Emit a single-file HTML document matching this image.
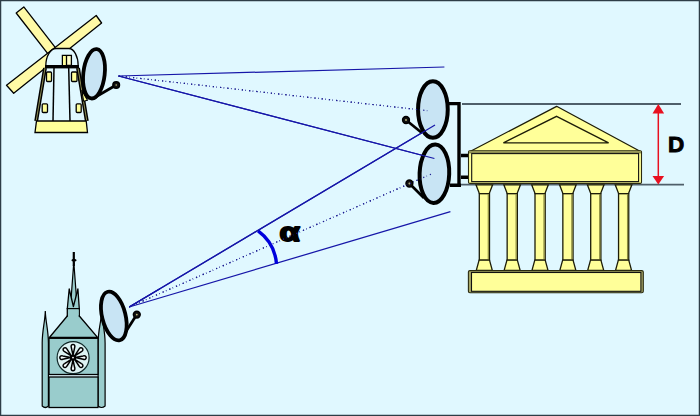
<!DOCTYPE html>
<html><head><meta charset="utf-8"><style>
html,body{margin:0;padding:0;background:#E0F8FF;}
svg{display:block;}
text{font-family:"Liberation Sans",sans-serif;}
</style></head><body>
<svg width="700" height="416" viewBox="0 0 700 416"><rect x="0" y="0" width="700" height="416" fill="#E0F8FF"/>
<line x1="118.5" y1="76" x2="444.4" y2="67" stroke="#1616A8" stroke-width="1.25"/>
<line x1="118.5" y1="76" x2="434.4" y2="158.5" stroke="#1616A8" stroke-width="1.25"/>
<line x1="118.5" y1="76" x2="430.5" y2="111" stroke="#1a1a90" stroke-width="1.2" stroke-dasharray="1.2 2.45 0.5 3.15"/>
<line x1="129.2" y1="307" x2="435" y2="125" stroke="#1616A8" stroke-width="1.25"/>
<line x1="129.2" y1="307" x2="450.4" y2="211.6" stroke="#1616A8" stroke-width="1.25"/>
<line x1="129.2" y1="307" x2="432.5" y2="173.5" stroke="#1a1a90" stroke-width="1.2" stroke-dasharray="1.2 2.45 0.5 3.15"/>
<path d="M258.1,230.9 A45.5,45.5 0 0 1 276.5,263.9" fill="none" stroke="#0000DD" stroke-width="3.4"/>
<text x="0" y="0" font-family="Liberation Sans" font-weight="bold" font-size="25" fill="#000" stroke="#000" stroke-width="1.8" stroke-linejoin="round" transform="translate(279.6 240.9) scale(1.32 1.02)">&#945;</text>
<polygon points="16.2,13 23.8,6.9 60.6,54.4 53,60.4" fill="#FFFAA6" stroke="#000" stroke-width="1.3" stroke-linejoin="round"/>
<polygon points="96.2,15.5 101.6,23 13.7,93.3 6.5,85.3" fill="#FFFAA6" stroke="#000" stroke-width="1.3" stroke-linejoin="round"/>
<polygon points="45,68 78,68 87,121 36,121" fill="#E0F8FF"/>
<line x1="45" y1="68" x2="36.2" y2="121" stroke="#000" stroke-width="3.9"/>
<line x1="45" y1="68" x2="36.2" y2="121" stroke="#C8C878" stroke-width="0.7"/>
<line x1="78" y1="68" x2="86.8" y2="121" stroke="#000" stroke-width="3.9"/>
<line x1="78" y1="68" x2="86.8" y2="121" stroke="#C8C878" stroke-width="0.7"/>
<line x1="54" y1="68" x2="53" y2="121" stroke="#000" stroke-width="1.5"/>
<line x1="68.7" y1="68" x2="70" y2="121" stroke="#000" stroke-width="1.5"/>
<rect x="46.5" y="72" width="5" height="9.5" rx="1" fill="#FFFF99" stroke="#000" stroke-width="1.3"/>
<rect x="71.5" y="72" width="5.5" height="9.5" rx="1" fill="#FFFF99" stroke="#000" stroke-width="1.3"/>
<rect x="42.2" y="103.8" width="5.3" height="8.7" rx="1" fill="#FFFF99" stroke="#000" stroke-width="1.3"/>
<rect x="76.2" y="103.8" width="5" height="8.7" rx="1" fill="#FFFF99" stroke="#000" stroke-width="1.3"/>
<polygon points="36.5,121 86.2,121 87.5,132.5 35,132.5" fill="#FFFF99" stroke="#000" stroke-width="1.3"/>
<path d="M45.8,66 A10.2,17.5 0 0 1 56,48.5 L68.8,48.5 A9.4,17.5 0 0 1 78.2,66 Z" fill="#E0F8FF" stroke="#000" stroke-width="1.3"/>
<rect x="62.4" y="55.4" width="9" height="10" fill="#FFFFCC" stroke="#000" stroke-width="1.3"/>
<rect x="63" y="56" width="3.3" height="9" fill="#FFFF99"/>
<line x1="66.5" y1="55.4" x2="66.5" y2="65.5" stroke="#000" stroke-width="1.3"/>
<rect x="45" y="65" width="34" height="3.4" fill="#000"/>
<polygon points="81.8,90.5 87.5,100.3 83.6,101.2" fill="#FFFF99" stroke="#000" stroke-width="1.1" stroke-linejoin="round"/>
<line x1="93" y1="98.5" x2="116.2" y2="85" stroke="#000" stroke-width="2.7"/>
<ellipse cx="94" cy="73.8" rx="10.7" ry="24.8" transform="rotate(6.4 94 73.8)" fill="#C8E4F4" stroke="#000" stroke-width="3.8"/>
<circle cx="116.2" cy="85" r="3.3" fill="#111" stroke="#000" stroke-width="1.5"/><circle cx="116.2" cy="85" r="0.8" fill="#C8C080"/>
<path d="M449,103.6 L459,103.6 M459,102 L459,187 M450,185.2 L461,185.2" stroke="#000" stroke-width="3.4" fill="none"/>
<path d="M461,155.5 L469,155.5 M461,177.3 L469,177.3" stroke="#000" stroke-width="3.5" fill="none"/>
<line x1="422" y1="133" x2="406" y2="120" stroke="#000" stroke-width="2.7"/>
<ellipse cx="432.9" cy="109.5" rx="14.85" ry="28.3" fill="#C8E4F4" stroke="#000" stroke-width="4"/>
<circle cx="406" cy="120" r="3.4" fill="#111" stroke="#000" stroke-width="1.5"/><circle cx="406" cy="120" r="0.9" fill="#C8C080"/>
<line x1="424" y1="198" x2="409.4" y2="183.5" stroke="#000" stroke-width="2.7"/>
<ellipse cx="434.4" cy="173.7" rx="14.8" ry="29.2" transform="rotate(2 434.4 173.7)" fill="#C8E4F4" stroke="#000" stroke-width="4"/>
<circle cx="409.4" cy="183.5" r="3.4" fill="#111" stroke="#000" stroke-width="1.5"/><circle cx="409.4" cy="183.5" r="0.9" fill="#C8C080"/>
<line x1="118.5" y1="76" x2="434.4" y2="158.5" stroke="#1616A8" stroke-width="1.25"/>
<line x1="129.2" y1="307" x2="435" y2="125" stroke="#1616A8" stroke-width="1.25"/>
<line x1="118.5" y1="76" x2="430.5" y2="111" stroke="#1a1a90" stroke-width="1.2" stroke-dasharray="1.2 2.45 0.5 3.15"/>
<line x1="129.2" y1="307" x2="432.5" y2="173.5" stroke="#1a1a90" stroke-width="1.2" stroke-dasharray="1.2 2.45 0.5 3.15"/>
<line x1="462" y1="104" x2="681" y2="104" stroke="#4F5F6A" stroke-width="1.8"/>
<line x1="461" y1="184.6" x2="684" y2="184.6" stroke="#4F5F6A" stroke-width="1.8"/>
<polygon points="556.6,106.3 641.4,152 469.1,152" fill="#FFFF99" stroke="#1c1c08" stroke-width="1.3" stroke-linejoin="round"/>
<polygon points="556.6,116.3 608.6,142.9 503.4,142.9" fill="none" stroke="#1c1c08" stroke-width="1.3"/>
<rect x="468.5" y="150.8" width="173" height="32.6" rx="1.2" fill="#FFFF99" stroke="#2a2a10" stroke-width="1.1"/>
<rect x="469" y="151.2" width="172" height="2.2" fill="#8C8C50"/>
<rect x="471.7" y="153.6" width="166.9" height="28" fill="#FFFF99" stroke="#111" stroke-width="1.1"/>
<polygon points="476.0,184.8 492.6,184.8 489.2,193.7 479.40000000000003,193.7" fill="#FFFF99" stroke="#1c1c08" stroke-width="1.3"/>
<rect x="479.3" y="193.7" width="10.2" height="66.5" fill="#FFFF99" stroke="#1c1c08" stroke-width="1.3"/>
<line x1="488.3" y1="194" x2="488.3" y2="260" stroke="#8a8a40" stroke-width="1.2"/>
<polygon points="479.1,260.2 489.5,260.2 492.3,270.3 476.3,270.3" fill="#FFFF99" stroke="#1c1c08" stroke-width="1.3"/>
<polygon points="503.84999999999997,184.8 520.4499999999999,184.8 517.05,193.7 507.25,193.7" fill="#FFFF99" stroke="#1c1c08" stroke-width="1.3"/>
<rect x="507.15" y="193.7" width="10.2" height="66.5" fill="#FFFF99" stroke="#1c1c08" stroke-width="1.3"/>
<line x1="516.15" y1="194" x2="516.15" y2="260" stroke="#8a8a40" stroke-width="1.2"/>
<polygon points="506.95,260.2 517.35,260.2 520.15,270.3 504.15,270.3" fill="#FFFF99" stroke="#1c1c08" stroke-width="1.3"/>
<polygon points="531.7,184.8 548.3,184.8 544.9,193.7 535.1,193.7" fill="#FFFF99" stroke="#1c1c08" stroke-width="1.3"/>
<rect x="535.0" y="193.7" width="10.2" height="66.5" fill="#FFFF99" stroke="#1c1c08" stroke-width="1.3"/>
<line x1="544.0" y1="194" x2="544.0" y2="260" stroke="#8a8a40" stroke-width="1.2"/>
<polygon points="534.8,260.2 545.2,260.2 548.0,270.3 532.0,270.3" fill="#FFFF99" stroke="#1c1c08" stroke-width="1.3"/>
<polygon points="559.5500000000001,184.8 576.15,184.8 572.75,193.7 562.95,193.7" fill="#FFFF99" stroke="#1c1c08" stroke-width="1.3"/>
<rect x="562.85" y="193.7" width="10.2" height="66.5" fill="#FFFF99" stroke="#1c1c08" stroke-width="1.3"/>
<line x1="571.85" y1="194" x2="571.85" y2="260" stroke="#8a8a40" stroke-width="1.2"/>
<polygon points="562.65,260.2 573.0500000000001,260.2 575.85,270.3 559.85,270.3" fill="#FFFF99" stroke="#1c1c08" stroke-width="1.3"/>
<polygon points="587.4000000000001,184.8 604.0,184.8 600.6,193.7 590.8000000000001,193.7" fill="#FFFF99" stroke="#1c1c08" stroke-width="1.3"/>
<rect x="590.7" y="193.7" width="10.2" height="66.5" fill="#FFFF99" stroke="#1c1c08" stroke-width="1.3"/>
<line x1="599.7" y1="194" x2="599.7" y2="260" stroke="#8a8a40" stroke-width="1.2"/>
<polygon points="590.5,260.2 600.9000000000001,260.2 603.7,270.3 587.7,270.3" fill="#FFFF99" stroke="#1c1c08" stroke-width="1.3"/>
<polygon points="615.25,184.8 631.8499999999999,184.8 628.4499999999999,193.7 618.65,193.7" fill="#FFFF99" stroke="#1c1c08" stroke-width="1.3"/>
<rect x="618.55" y="193.7" width="10.2" height="66.5" fill="#FFFF99" stroke="#1c1c08" stroke-width="1.3"/>
<line x1="627.55" y1="194" x2="627.55" y2="260" stroke="#8a8a40" stroke-width="1.2"/>
<polygon points="618.3499999999999,260.2 628.75,260.2 631.55,270.3 615.55,270.3" fill="#FFFF99" stroke="#1c1c08" stroke-width="1.3"/>
<rect x="468.4" y="270.6" width="174.9" height="22.1" rx="1.5" fill="#A8A868" stroke="#2a2a10" stroke-width="1.1"/>
<rect x="471.5" y="272.5" width="169.4" height="18.8" fill="#FFFF99" stroke="#111" stroke-width="1.1"/>
<line x1="658.3" y1="110" x2="658.3" y2="178" stroke="#E81020" stroke-width="1.5"/>
<polygon points="658.3,104 652.5,113.5 664.1,113.5" fill="#E81020"/>
<polygon points="658.3,184.6 652.5,176 664.1,176" fill="#E81020"/>
<text x="668" y="151.5" font-family="Liberation Sans" font-weight="bold" font-size="22.5" fill="#000" stroke="#000" stroke-width="0.9">D</text>
<line x1="73.8" y1="252" x2="73.8" y2="266" stroke="#000" stroke-width="2.2"/>
<ellipse cx="74" cy="260.2" rx="2.6" ry="1.3" fill="#000"/>
<polygon points="73.8,262 77.2,308 70.4,308" fill="#99CCCC" stroke="#000" stroke-width="1.2"/>
<polygon points="67.3,308.7 69.2,289 73.4,306.5 77.9,289 79.3,308.7" fill="#99CCCC" stroke="#000" stroke-width="1.3" stroke-linejoin="round"/>
<rect x="67.3" y="308.7" width="12" height="9" fill="#99CCCC" stroke="#000" stroke-width="1.3"/>
<polygon points="49.4,337.5 67.3,316 79.3,316 97.7,337.5" fill="#99CCCC" stroke="#000" stroke-width="1.3"/>
<rect x="68" y="309.5" width="10.6" height="8" fill="#99CCCC"/>
<path d="M45.3,311 C45.6,322 48.4,330 48.4,343 L48.4,406 Q45.3,409 42.2,406 L42.2,343 C42.2,330 45,322 45.3,311 Z" fill="#99CCCC" stroke="#000" stroke-width="1.2"/>
<path d="M101.6,311 C101.9,322 105.1,330 105.1,343 L105.1,406 Q101.6,409 98.1,406 L98.1,343 C98.1,330 101.3,322 101.6,311 Z" fill="#99CCCC" stroke="#000" stroke-width="1.2"/>
<rect x="49" y="338.3" width="49" height="36.2" fill="#99CCCC" stroke="#000" stroke-width="1.3"/>
<rect x="49" y="377" width="49" height="30.5" fill="#99CCCC" stroke="#000" stroke-width="1.3"/>
<circle cx="73.1" cy="357.7" r="16" fill="#DDF3F3" stroke="#102828" stroke-width="1.2"/>
<path d="M0,-2.4 L-1.7,-10.2 C-3,-14.2 3,-14.2 1.7,-10.2 Z" transform="translate(73.0 357.6) rotate(0)" fill="#F4FCFC" stroke="#000" stroke-width="1.5" stroke-linejoin="round"/><path d="M0,-2.4 L-1.7,-10.2 C-3,-14.2 3,-14.2 1.7,-10.2 Z" transform="translate(73.0 357.6) rotate(45)" fill="#F4FCFC" stroke="#000" stroke-width="1.5" stroke-linejoin="round"/><path d="M0,-2.4 L-1.7,-10.2 C-3,-14.2 3,-14.2 1.7,-10.2 Z" transform="translate(73.0 357.6) rotate(90)" fill="#F4FCFC" stroke="#000" stroke-width="1.5" stroke-linejoin="round"/><path d="M0,-2.4 L-1.7,-10.2 C-3,-14.2 3,-14.2 1.7,-10.2 Z" transform="translate(73.0 357.6) rotate(135)" fill="#F4FCFC" stroke="#000" stroke-width="1.5" stroke-linejoin="round"/><path d="M0,-2.4 L-1.7,-10.2 C-3,-14.2 3,-14.2 1.7,-10.2 Z" transform="translate(73.0 357.6) rotate(180)" fill="#F4FCFC" stroke="#000" stroke-width="1.5" stroke-linejoin="round"/><path d="M0,-2.4 L-1.7,-10.2 C-3,-14.2 3,-14.2 1.7,-10.2 Z" transform="translate(73.0 357.6) rotate(225)" fill="#F4FCFC" stroke="#000" stroke-width="1.5" stroke-linejoin="round"/><path d="M0,-2.4 L-1.7,-10.2 C-3,-14.2 3,-14.2 1.7,-10.2 Z" transform="translate(73.0 357.6) rotate(270)" fill="#F4FCFC" stroke="#000" stroke-width="1.5" stroke-linejoin="round"/><path d="M0,-2.4 L-1.7,-10.2 C-3,-14.2 3,-14.2 1.7,-10.2 Z" transform="translate(73.0 357.6) rotate(315)" fill="#F4FCFC" stroke="#000" stroke-width="1.5" stroke-linejoin="round"/>
<circle cx="73.0" cy="357.6" r="3.2" fill="#000"/><circle cx="73.0" cy="357.6" r="0.9" fill="#fff"/>
<line x1="121.5" y1="338.5" x2="136.8" y2="314.6" stroke="#000" stroke-width="2.7"/>
<ellipse cx="113.8" cy="316" rx="11.7" ry="25" transform="rotate(-14 113.8 316)" fill="#C8E4F4" stroke="#000" stroke-width="3.8"/>
<circle cx="136.8" cy="314.6" r="3.4" fill="#111" stroke="#000" stroke-width="1.5"/><circle cx="136.8" cy="314.6" r="0.9" fill="#C8C080"/>
<line x1="129.2" y1="307" x2="160" y2="288.674" stroke="#1616A8" stroke-width="1.25"/>
<rect x="0.5" y="0.5" width="699" height="415" fill="none" stroke="#2E3D47" stroke-width="1.5"/></svg>
</body></html>
